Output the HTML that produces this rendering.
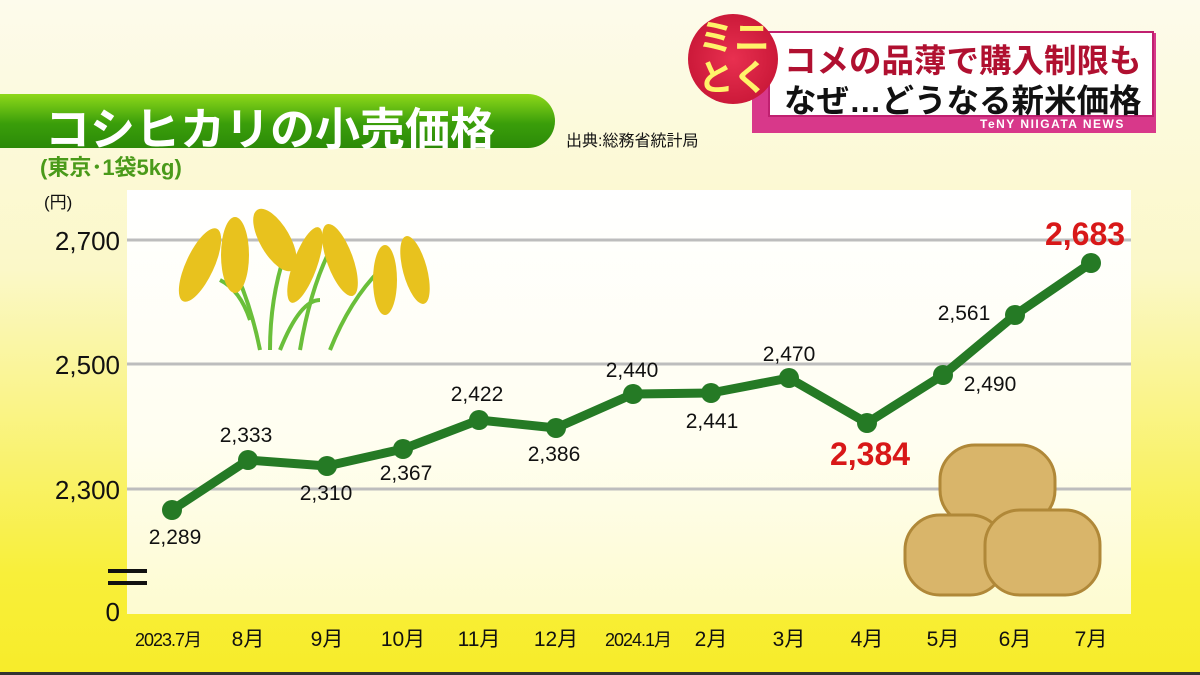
<!DOCTYPE html>
<html><head><meta charset="utf-8"><style>
body{margin:0;width:1200px;height:675px;overflow:hidden;font-family:"Liberation Sans","Noto Sans CJK JP",sans-serif;}
.bg{position:absolute;left:0;top:0;width:1200px;height:675px;background:linear-gradient(#fdfbec 0%,#fbf8c8 40%,#f8ef3a 85%,#f7ec2a 100%);}
.t{position:absolute;white-space:nowrap;}
</style></head><body>
<div class="bg"></div>
<div style="position:absolute;left:0;top:672px;width:1200px;height:3px;background:#333"></div>
<div style="position:absolute;left:0;top:94px;width:555px;height:54px;border-radius:0 28px 28px 0;background:linear-gradient(#8ed81a,#3a9e0a 55%,#2c8a08);"></div>
<div class="t" style="left:45px;top:93px;font-size:45px;font-weight:bold;color:#fff;">コシヒカリの小売価格</div>
<div class="t" style="left:40px;top:150px;font-size:22px;font-weight:bold;color:#4a9a1a">(東京･1袋5kg)</div>
<div class="t" style="left:566px;top:127px;font-size:16px;color:#111">出典:総務省統計局</div>
<div class="t" style="left:44px;top:188px;font-size:17px;color:#111">(円)</div>
<div style="position:absolute;left:752px;top:33px;width:404px;height:100px;background:#d8388a;"></div>
<div style="position:absolute;left:768px;top:31px;width:382px;height:82px;background:#fff;border:2px solid #c02070"></div>
<div class="t" style="left:980px;top:117px;font-size:12px;color:#fff;letter-spacing:1.5px;font-weight:bold">TeNY NIIGATA NEWS</div>
<div class="t" style="left:784px;top:35px;font-size:32.5px;font-weight:bold;color:#b01030">コメの品薄で購入制限も</div>
<div class="t" style="left:784px;top:75px;font-size:32.5px;font-weight:bold;color:#111">なぜ…どうなる新米価格</div>
<div style="position:absolute;left:688px;top:14px;width:90px;height:90px;border-radius:50%;background:radial-gradient(#e83050,#c01030);"></div>
<div class="t" style="left:698px;top:18px;font-size:36px;font-weight:bold;color:#fff36a;line-height:40px">ミニ<br>とく</div>
<div style="position:absolute;left:127px;top:190px;width:1004px;height:424px;background:linear-gradient(#fff 0%,#fffef0 60%,#fdfbd0 100%);"></div>
<svg style="position:absolute;left:0;top:0" width="1200" height="675">
<g stroke="#bdbdbd" stroke-width="3"><line x1="127" y1="240" x2="1131" y2="240"/><line x1="127" y1="364" x2="1131" y2="364"/><line x1="127" y1="489" x2="1131" y2="489"/></g>
<g stroke="#111" stroke-width="4"><line x1="108" y1="571" x2="147" y2="571"/><line x1="108" y1="583" x2="147" y2="583"/></g>
<g stroke="#6abf3a" stroke-width="4" fill="none">
<path d="M260 350 Q250 300 230 260"/><path d="M270 350 Q270 290 290 240"/><path d="M300 350 Q310 290 330 250"/><path d="M330 350 Q350 300 380 270"/><path d="M280 350 Q300 300 320 300"/><path d="M250 320 Q240 290 220 280"/>
</g>
<g fill="#e8c21e">
<ellipse cx="200" cy="265" rx="14" ry="40" transform="rotate(25 200 265)"/><ellipse cx="235" cy="255" rx="14" ry="38"/><ellipse cx="275" cy="240" rx="15" ry="35" transform="rotate(-30 275 240)"/><ellipse cx="305" cy="265" rx="12" ry="40" transform="rotate(20 305 265)"/><ellipse cx="340" cy="260" rx="13" ry="38" transform="rotate(-20 340 260)"/><ellipse cx="385" cy="280" rx="12" ry="35"/><ellipse cx="415" cy="270" rx="12" ry="35" transform="rotate(-15 415 270)"/>
</g>
<g fill="#d9b56a" stroke="#b08838" stroke-width="3">
<rect x="940" y="445" width="115" height="80" rx="35"/>
<rect x="905" y="515" width="100" height="80" rx="35"/>
<rect x="985" y="510" width="115" height="85" rx="35"/>
</g>
<polyline fill="none" stroke="#257a25" stroke-width="9" stroke-linejoin="round" points="172,510 248,460 327,466 403,449 479,420 556,428 633,394 711,393 789,378 867,423 943,375 1015,315 1091,263"/>
<g fill="#257a25"><circle cx="172" cy="510" r="10"/><circle cx="248" cy="460" r="10"/><circle cx="327" cy="466" r="10"/><circle cx="403" cy="449" r="10"/><circle cx="479" cy="420" r="10"/><circle cx="556" cy="428" r="10"/><circle cx="633" cy="394" r="10"/><circle cx="711" cy="393" r="10"/><circle cx="789" cy="378" r="10"/><circle cx="867" cy="423" r="10"/><circle cx="943" cy="375" r="10"/><circle cx="1015" cy="315" r="10"/><circle cx="1091" cy="263" r="10"/></g>
<g font-family="Liberation Sans, sans-serif" font-size="21" fill="#111" text-anchor="middle">
<text x="175" y="544">2,289</text><text x="246" y="442">2,333</text><text x="326" y="500">2,310</text><text x="406" y="480">2,367</text><text x="477" y="401">2,422</text><text x="554" y="461">2,386</text><text x="632" y="377">2,440</text><text x="712" y="428">2,441</text><text x="789" y="361">2,470</text><text x="990" y="391">2,490</text><text x="964" y="320">2,561</text>
</g>
<g font-family="Liberation Sans, sans-serif" font-size="32" font-weight="bold" fill="#d81818" text-anchor="middle"><text x="870" y="465">2,384</text><text x="1085" y="245">2,683</text></g>
<g font-family="Liberation Sans, sans-serif" font-size="26" fill="#111" text-anchor="end"><text x="120" y="250">2,700</text><text x="120" y="374">2,500</text><text x="120" y="499">2,300</text><text x="120" y="621">0</text></g>
<g font-family="Liberation Sans, Noto Sans CJK JP, sans-serif" font-size="21" fill="#111" text-anchor="middle">
<text x="168" y="646" font-size="18" letter-spacing="-1">2023.7月</text><text x="248" y="646">8月</text><text x="327" y="646">9月</text><text x="403" y="646">10月</text><text x="479" y="646">11月</text><text x="556" y="646">12月</text><text x="638" y="646" font-size="18" letter-spacing="-1">2024.1月</text><text x="711" y="646">2月</text><text x="789" y="646">3月</text><text x="867" y="646">4月</text><text x="943" y="646">5月</text><text x="1015" y="646">6月</text><text x="1091" y="646">7月</text>
</g>
</svg>
</body></html>
